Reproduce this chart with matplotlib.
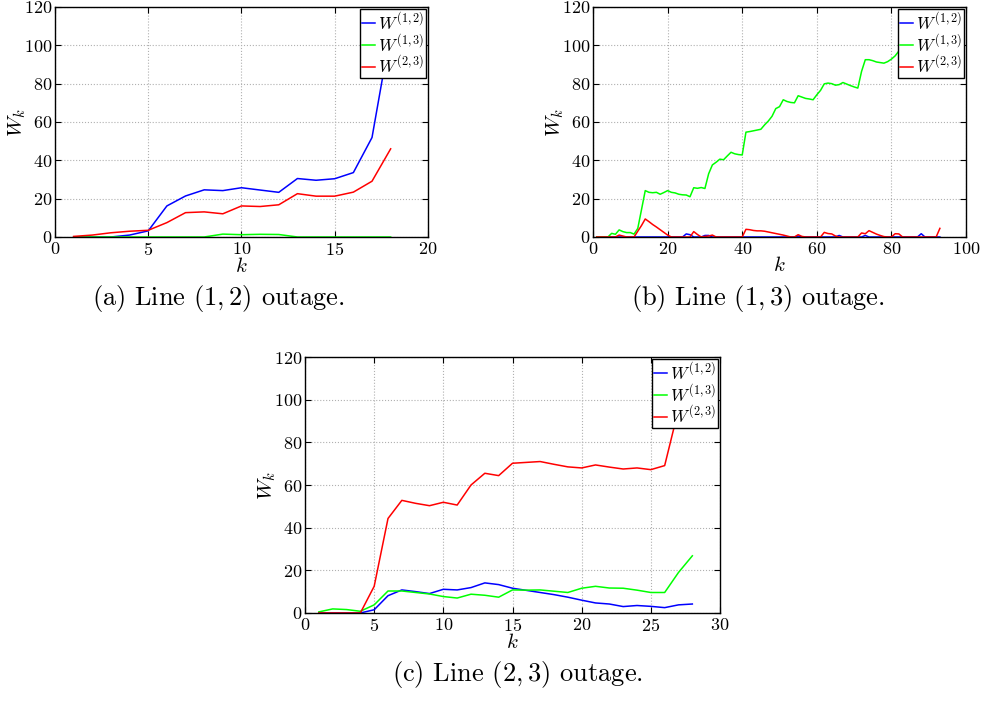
import numpy as np
import matplotlib
matplotlib.use("Agg")
import matplotlib.pyplot as plt

plt.rcParams['font.family'] = ['cmr10', 'DejaVu Serif']
plt.rcParams['mathtext.fontset'] = 'cm'
plt.rcParams['axes.formatter.use_mathtext'] = True
plt.rcParams['axes.unicode_minus'] = False

#%% data
series_names = [r'$W^{(1,2)}$', r'$W^{(1,3)}$', r'$W^{(2,3)}$']
series_colors = ['#0000ff', '#00ff00', '#ff0000']

# (a) line (1,2) outage
k_a = list(range(1, 19))
w12_a = [0, 0, 0, 1.0, 3.2, 16.2, 21.4, 24.6, 24.2, 25.7, 24.5, 23.3, 30.5,
         29.6, 30.4, 33.6, 51.9, 107]
w13_a = [0, 0, 0, 0, 0, 0, 0, 0, 1.5, 1.2, 1.4, 1.3, 0, 0, 0, 0, 0, 0]
w23_a = [0.3, 1.0, 2.2, 3.0, 3.5, 7.5, 12.7, 13.1, 12.1, 16.2, 15.9, 16.8,
         22.6, 21.3, 21.3, 23.4, 29.1, 46.0]

# (b) line (1,3) outage
k_b = list(range(1, 94))
w12_b = [0, 0, 0, 0, 0, 0, 0, 0, 0, 0,
         0, 0, 0, 0, 0, 0, 0, 0, 0, 0,
         0, 0, 0, 0, 1.6, 1.2, 0, 0, 0, 0.8,
         0.8, 0, 0, 0, 0, 0, 0, 0, 0, 0,
         0, 0, 0, 0, 0, 0, 0, 0, 0, 0,
         0, 0, 0, 0, 0.5, 0, 0, 0, 0, 0,
         0, 0, 0, 0, 0, 0.8, 0, 0, 0, 0,
         0, 0, 0.8, 0, 0, 0, 0, 0, 0, 0,
         0, 0, 0, 0, 0, 0, 0, 1.7, 0, 0,
         0, 0, 0]
w13_b = [0, 0, 0, 0, 1.9, 1.4, 3.7, 2.8, 2.3, 2.3,
         1.5, 4.5, 14.3, 24.2, 23.3, 23.1, 23.3, 22.3, 23.2, 24.2,
         23.3, 23.0, 22.3, 22.0, 21.9, 21.0, 25.7, 25.4, 25.8, 25.3,
         33.0, 37.6, 39.0, 40.6, 40.3, 42.3, 44.2, 43.4, 43.0, 42.8,
         54.7, 55.0, 55.4, 55.8, 56.2, 58.5, 60.5, 63.0, 67.0, 68.0,
         71.6, 70.7, 70.2, 70.0, 73.7, 73.0, 72.3, 72.0, 71.6, 74.2,
         76.5, 79.9, 80.3, 80.0, 79.2, 79.5, 80.6, 79.8, 79.0, 78.3,
         77.7, 86.4, 92.5, 92.5, 92.0, 91.3, 91.0, 90.7, 91.5, 92.8,
         94.5, 97.0, 98.0, 99.0, 100.0, 101.0, 102.0, 103.0, 104.0, 105.0,
         106.0, 107.0, 108.0]
w23_b = [0, 0, 0, 0, 0, 0, 1.0, 0.5, 0, 0,
         0, 3.0, 6.0, 9.4, 8.0, 6.5, 5.2, 3.8, 2.4, 1.0,
         0, 0, 0, 0, 0, 0, 2.8, 1.3, 0, 0.3,
         0.5, 1.0, 0, 0, 0, 0, 0, 0, 0, 0,
         4.0, 3.8, 3.4, 3.2, 3.2, 3.0, 2.6, 2.2, 1.8, 1.4,
         1.0, 0.5, 0, 0, 1.2, 0.3, 0, 0, 0, 0,
         0, 2.4, 1.8, 1.6, 0.5, 0, 0, 0, 0, 0,
         0, 2.1, 1.7, 3.3, 2.4, 1.5, 0.8, 0.2, 0, 0,
         1.7, 1.6, 0, 0, 0, 0, 0, 0, 0, 0,
         0, 0, 4.5]

# (c) line (2,3) outage
k_c = list(range(1, 29))
w12_c = [0, 0, 0, 0, 1.5, 8.1, 10.8, 10.0, 9.1, 11.1, 10.8, 11.9, 14.1, 13.3,
         11.6, 10.6, 9.6, 8.6, 7.4, 6.0, 4.7, 4.2, 3.0, 3.5, 3.1, 2.5, 3.8, 4.2]
w13_c = [0.5, 1.9, 1.6, 0.8, 3.8, 10.3, 10.3, 9.6, 8.9, 7.7, 7.0, 8.8, 8.3, 7.4,
         10.8, 10.7, 10.8, 10.2, 9.6, 11.6, 12.5, 11.7, 11.6, 10.7, 9.6, 9.6,
         19.0, 26.8]
w23_c = [0, 0, 0, 0, 12.5, 44.3, 52.8, 51.4, 50.3, 51.9, 50.6, 60.0, 65.5, 64.4,
         70.2, 70.6, 71.0, 69.7, 68.5, 68.0, 69.4, 68.4, 67.5, 68.0, 67.2, 69.1,
         95.5, 112.0]

captions = ['(a) Line $(1,2)$ outage.', '(b) Line $(1,3)$ outage.',
            '(c) Line $(2,3)$ outage.']
xmax = [20, 100, 30]
xstep = [5, 20, 5]


#%% figure
fig = plt.figure(figsize=(9.82, 7.07), dpi=100)
ax_a = fig.add_axes([0.056, 0.6648, 0.3798, 0.3253])
ax_b = fig.add_axes([0.6039, 0.6648, 0.3798, 0.3253])
ax_c = fig.add_axes([0.3106, 0.133, 0.4226, 0.362])

panels = [(ax_a, k_a, [w12_a, w13_a, w23_a]),
          (ax_b, k_b, [w12_b, w13_b, w23_b]),
          (ax_c, k_c, [w12_c, w13_c, w23_c])]

for i, (ax, k, ws) in enumerate(panels):
    for w, name, col in zip(ws, series_names, series_colors):
        ax.plot(k, w, color=col, lw=1.1, label=name)
    ax.set_xlim(0, xmax[i])
    ax.set_ylim(0, 120)
    ax.set_xticks(np.arange(0, xmax[i] + 1, xstep[i]))
    ax.set_yticks(np.arange(0, 121, 20))
    ax.grid(True, color='#b0b0b0', linestyle=':', linewidth=0.8)
    ax.tick_params(direction='in', top=True, right=True, length=4,
                   labelsize=13)
    ax.tick_params(axis='x', pad=3)
    ax.tick_params(axis='y', pad=2)
    for s in ax.spines.values():
        s.set_linewidth(1.0)
    ax.set_xlabel('$k$', fontsize=15, labelpad=-1)
    ax.set_ylabel('$W_k$', fontsize=15, labelpad=-3)
    leg = ax.legend(loc='upper right', fontsize=12.5, handlelength=0.75,
                    handletextpad=0.15, borderaxespad=0.1, borderpad=0.12,
                    labelspacing=0.0, fancybox=False, framealpha=1,
                    edgecolor='black')
    leg.get_frame().set_linewidth(1.0)

fig.text(0.222, 1 - 298 / 707, captions[0], ha='center', va='center', fontsize=19)
fig.text(0.772, 1 - 298 / 707, captions[1], ha='center', va='center', fontsize=19)
fig.text(0.527, 1 - 675 / 707, captions[2], ha='center', va='center', fontsize=19)

fig.savefig('out.png', dpi=100)
